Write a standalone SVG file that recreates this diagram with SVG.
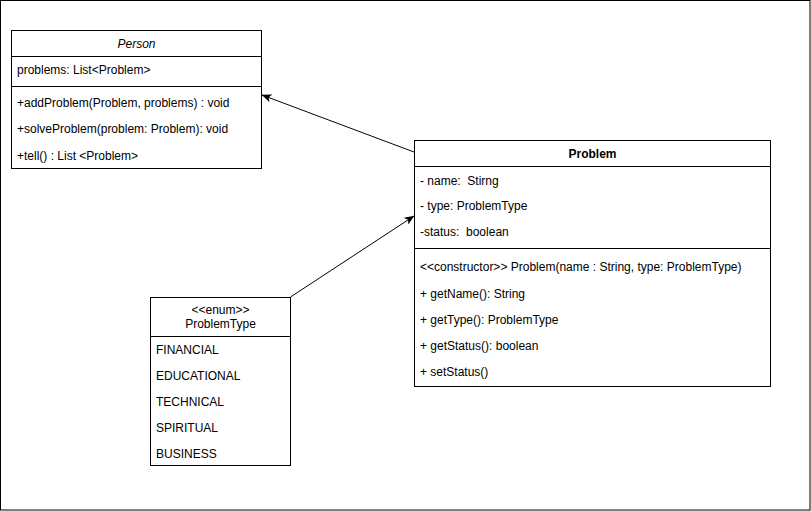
<svg xmlns="http://www.w3.org/2000/svg" width="811" height="511" viewBox="0 0 811 511">
  <style>
    .box { fill: #ffffff; stroke: #000000; stroke-width: 1; }
    .sep { stroke: #000000; stroke-width: 1; }
    .t { font-family: "Liberation Sans", Arial, Helvetica, sans-serif; font-size: 12px; fill: #000000; dominant-baseline: central; white-space: pre; }
    .c { text-anchor: middle; }
    .edge { fill: none; stroke: #000000; stroke-width: 1; }
  </style>
  <defs>
    <marker id="arrow" viewBox="0 0 10 8" refX="9.5" refY="4" markerWidth="10" markerHeight="8" markerUnits="userSpaceOnUse" orient="auto">
      <path d="M0,0 L10,4 L0,8 L2.5,4 Z" fill="#000000"/>
    </marker>
  </defs>

  <!-- page frame -->
  <rect x="0.5" y="0.5" width="809.5" height="509.5" fill="#ffffff" stroke="#000000" stroke-width="1"/>

  <!-- connectors -->
  <g id="connectors">
    <line class="edge" x1="414" y1="152" x2="262" y2="95" marker-end="url(#arrow)"/>
    <line class="edge" x1="290.5" y1="297" x2="414" y2="216" marker-end="url(#arrow)"/>
  </g>

  <!-- Person class -->
  <g id="person">
    <rect class="box" x="11.5" y="30.5" width="250" height="138"/>
    <line class="sep" x1="11.5" y1="56.5" x2="261.5" y2="56.5"/>
    <line class="sep" x1="11.5" y1="86.5" x2="261.5" y2="86.5"/>
    <text class="t c" x="136.5" y="43.5" font-style="italic">Person</text>
    <text class="t" x="17" y="69.5">problems: List&lt;Problem&gt;</text>
    <text class="t" x="17" y="103">+addProblem(Problem, problems) : void</text>
    <text class="t" x="17" y="129">+solveProblem(problem: Problem): void</text>
    <text class="t" x="17" y="155.5">+tell() : List &lt;Problem&gt;</text>
  </g>

  <!-- Problem class -->
  <g id="problem">
    <rect class="box" x="414.5" y="140.5" width="356" height="246"/>
    <line class="sep" x1="414.5" y1="166.5" x2="770.5" y2="166.5"/>
    <line class="sep" x1="414.5" y1="248.5" x2="770.5" y2="248.5"/>
    <text class="t c" x="592.5" y="154" font-weight="bold">Problem</text>
    <text class="t" x="420" y="180.5" xml:space="preserve">- name:  Stirng</text>
    <text class="t" x="420" y="206">- type: ProblemType</text>
    <text class="t" x="420" y="231.5" xml:space="preserve">-status:  boolean</text>
    <text class="t" x="420" y="266.5">&lt;&lt;constructor&gt;&gt; Problem(name : String, type: ProblemType)</text>
    <text class="t" x="420" y="294">+ getName(): String</text>
    <text class="t" x="420" y="320">+ getType(): ProblemType</text>
    <text class="t" x="420" y="346">+ getStatus(): boolean</text>
    <text class="t" x="420" y="371.5">+ setStatus()</text>
  </g>

  <!-- ProblemType enum -->
  <g id="problemtype">
    <rect class="box" x="150.5" y="297.5" width="140" height="168"/>
    <line class="sep" x1="150.5" y1="336.5" x2="290.5" y2="336.5"/>
    <text class="t c" x="220.5" y="310">&lt;&lt;enum&gt;&gt;</text>
    <text class="t c" x="220.5" y="323.5">ProblemType</text>
    <text class="t" x="156" y="350">FINANCIAL</text>
    <text class="t" x="156" y="376">EDUCATIONAL</text>
    <text class="t" x="156" y="402">TECHNICAL</text>
    <text class="t" x="156" y="428">SPIRITUAL</text>
    <text class="t" x="156" y="454">BUSINESS</text>
  </g>
</svg>
